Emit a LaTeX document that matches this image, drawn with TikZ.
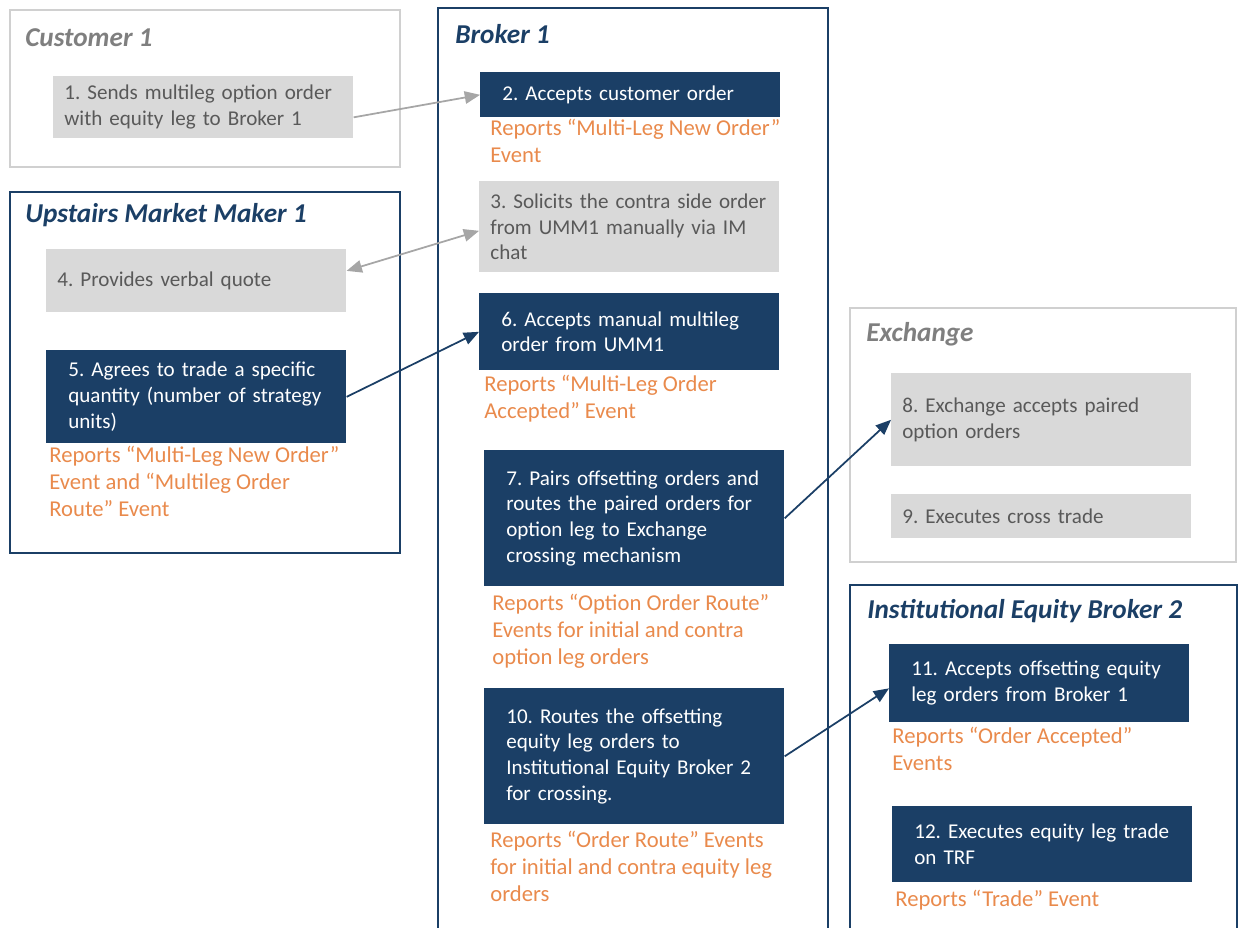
\documentclass[tikz,border=0pt]{standalone}
\usepackage{fontspec}
\setmainfont{Carlito}
\usetikzlibrary{arrows}
\frenchspacing
\definecolor{navy}{HTML}{1B3F66}
\definecolor{boxgray}{HTML}{D9D9D9}
\definecolor{txtgray}{HTML}{595959}
\definecolor{framegray}{HTML}{D0D0D0}
\definecolor{titlegray}{HTML}{7F7F7F}
\definecolor{reportorange}{HTML}{E98A4C}
\definecolor{arrowgray}{HTML}{A6A6A6}

\begin{document}
\begin{tikzpicture}[x=0.02cm,y=-0.02cm,
  navyframe/.style={draw=navy,line width=1.3pt},
  grayframe/.style={draw=framegray,line width=1.3pt},
  title/.style={anchor=west,inner sep=0,font=\fontsize{15.5}{17}\selectfont\bfseries\itshape},
  box/.style={anchor=north west,align=left,minimum width=6cm,inner ysep=0,
    font=\fontsize{12}{14.7}\selectfont},
  navybox/.style={box,fill=navy,text=white,inner xsep=0.44cm,text width=5.12cm},
  graybox/.style={box,fill=boxgray,text=txtgray,inner xsep=0.22cm,text width=5.56cm},
  report/.style={anchor=north west,align=left,inner sep=0,text=reportorange,
    font=\fontsize{12.9}{15.3}\selectfont},
  grayarrow/.style={draw=arrowgray,line width=1pt,-triangle 45},
  navyarrow/.style={draw=navy,line width=1pt,-triangle 45}]
\useasboundingbox (0,0) rectangle (1239,928);
% Frames
\draw[grayframe] (10,10) rectangle (400,167);
\draw[navyframe] (10,192) rectangle (400,553);
\draw[navyframe] (438,8) rectangle (828,960);
\draw[grayframe] (850,308) rectangle (1236,562);
\draw[navyframe] (850,585) rectangle (1237,960);
\node[title,text=titlegray] (tcust) at (25,38) {Customer 1};
\node[title,text=navy] (tumm) at (25,215) {Upstairs Market Maker 1};
\node[title,text=navy] (tbroker) at (455,34) {Broker 1};
\node[title,text=titlegray] (texch) at (866,334) {Exchange};
\node[title,text=navy] (tieb) at (867,611) {Institutional Equity Broker 2};
% Customer 1
\node[graybox,minimum height=1.24cm] (n1) at (53,76) {1. Sends multileg option order\\with equity leg to Broker 1};
% Upstairs Market Maker 1
\node[graybox,minimum height=1.26cm] (n4) at (46,249) {4. Provides verbal quote};
\node[navybox,minimum height=1.86cm] (n5) at (46,350) {5. Agrees to trade a specific\\quantity (number of strategy\\units)};
\node[report] (r5) at (49,446) {Reports “Multi-Leg New Order”\\Event and “Multileg Order\\Route” Event};
% Broker 1
\node[navybox,minimum height=0.9cm] (n2) at (480,72) {2. Accepts customer order};
\node[report] (r2) at (490,119) {Reports “Multi-Leg New Order”\\Event};
\node[graybox,minimum height=1.82cm] (n3) at (479,181) {3. Solicits the contra side order\\from UMM1 manually via IM\\chat};
\node[navybox,minimum height=1.54cm] (n6) at (479,293) {6. Accepts manual multileg\\order from UMM1};
\node[report] (r6) at (484,375) {Reports “Multi-Leg Order\\Accepted” Event};
\node[navybox,minimum height=2.72cm] (n7) at (484,450) {7. Pairs offsetting orders and\\routes the paired orders for\\option leg to Exchange\\crossing mechanism};
\node[report] (r7) at (492,594) {Reports “Option Order Route”\\Events for initial and contra\\option leg orders};
\node[navybox,minimum height=2.72cm] (n10) at (484,688) {10. Routes the offsetting\\equity leg orders to\\Institutional Equity Broker 2\\for crossing.};
\node[report] (r10) at (490,831) {Reports “Order Route” Events\\for initial and contra equity leg\\orders};
% Exchange
\node[graybox,minimum height=1.86cm] (n8) at (891,373) {8. Exchange accepts paired\\option orders};
\node[graybox,minimum height=0.88cm] (n9) at (891,494) {9. Executes cross trade};
% Institutional Equity Broker 2
\node[navybox,minimum height=1.56cm] (n11) at (889,644) {11. Accepts offsetting equity\\leg orders from Broker 1};
\node[report] (r11) at (892,727) {Reports “Order Accepted”\\Events};
\node[navybox,minimum height=1.52cm] (n12) at (892,806) {12. Executes equity leg trade\\on TRF};
\node[report] (r12) at (895,890) {Reports “Trade” Event};
% Arrows
\draw[grayarrow] ([yshift=-0.2cm]n1.east) -- (n2.west);
\draw[grayarrow,triangle 45-triangle 45] ([yshift=0.2cm]n4.east) -- ([yshift=-0.08cm]n3.west);
\draw[navyarrow] (n5.east) -- (n6.west);
\draw[navyarrow] (n7.east) -- (n8.west);
\draw[navyarrow] (n10.east) -- ([yshift=-0.1cm]n11.west);
\end{tikzpicture}
\end{document}
